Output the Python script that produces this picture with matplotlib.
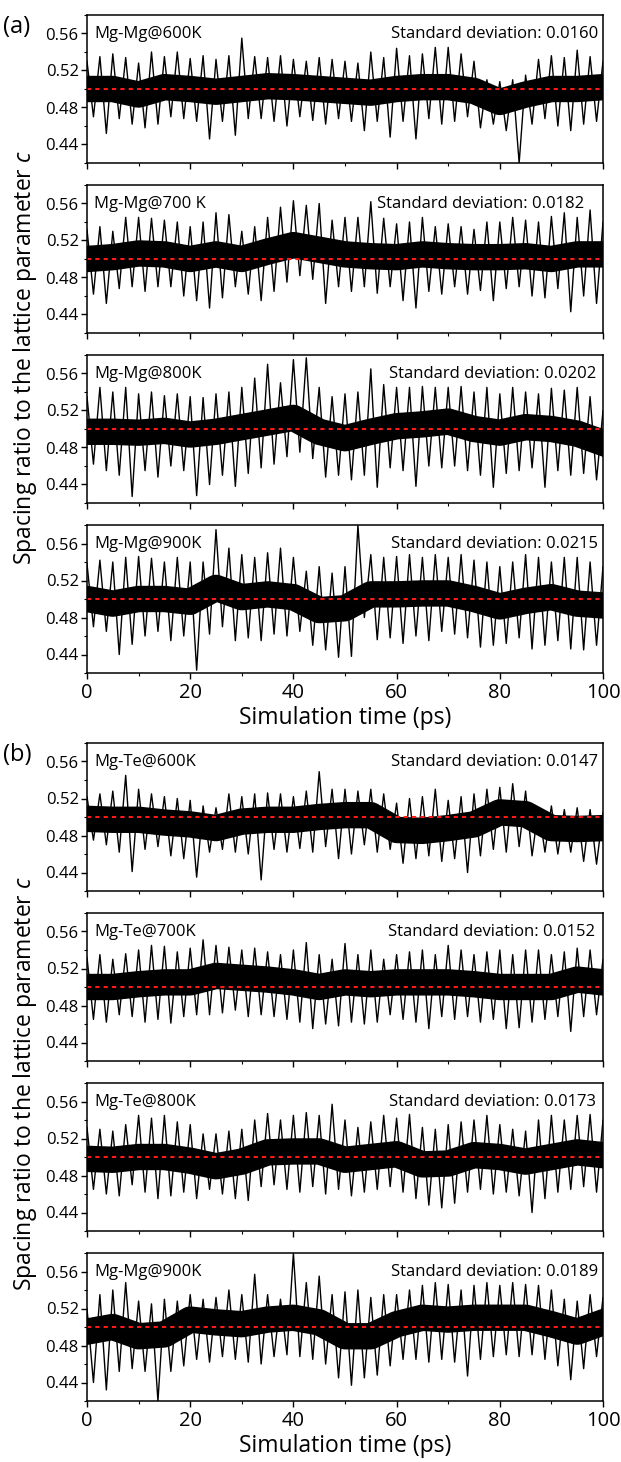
import numpy as np
import matplotlib.pyplot as plt
from matplotlib.ticker import MultipleLocator, FormatStrFormatter

plt.rcParams['font.family'] = ['Open Sans', 'DejaVu Sans']
plt.rcParams['mathtext.fontset'] = 'custom'
plt.rcParams['mathtext.rm'] = 'Open Sans'
plt.rcParams['mathtext.it'] = 'Open Sans:italic'

# Time grids (ps): upward spike tips, downward spike tips (half a step later),
# and the centre of the dense band
t_hi = np.arange(0, 100.1, 2.5)
t_lo = np.arange(1.25, 101.3, 2.5)
t_mid = np.arange(0, 100.1, 5)

# Panel names and standard deviations
names = ['Mg-Mg@600K', 'Mg-Mg@700 K', 'Mg-Mg@800K', 'Mg-Mg@900K',
         'Mg-Te@600K', 'Mg-Te@700K', 'Mg-Te@800K', 'Mg-Mg@900K']
sds = [0.0160, 0.0182, 0.0202, 0.0215, 0.0147, 0.0152, 0.0173, 0.0189]

# (a) Mg-Mg 600K
hi_a1 = [.530, .535, .538, .534, .528, .540, .535, .540, .533, .536, .532, .536, .555, .535,
         .534, .536, .532, .530, .534, .532, .530, .528, .540, .534, .544, .536, .538, .545,
         .545, .538, .530, .510, .508, .510, .515, .532, .536, .534, .542, .535, .530]
lo_a1 = [.470, .452, .468, .462, .458, .462, .470, .468, .465, .446, .465, .450, .468, .468,
         .465, .460, .470, .466, .462, .468, .465, .455, .465, .448, .465, .446, .468, .462,
         .465, .470, .458, .462, .455, .420, .462, .468, .460, .455, .462, .465, .472]
mid_a1 = [.500, .500, .494, .502, .500, .497, .500, .503, .502, .500, .498, .496, .500, .502,
          .502, .498, .486, .494, .500, .500, .502]

# (a) Mg-Mg 700K
hi_a2 = [.532, .535, .530, .545, .545, .544, .542, .540, .535, .540, .550, .548, .530, .535,
         .545, .556, .563, .558, .560, .542, .545, .545, .562, .544, .538, .540, .545, .535,
         .538, .535, .532, .540, .540, .545, .542, .540, .546, .550, .545, .553, .540]
lo_a2 = [.462, .452, .468, .470, .465, .470, .470, .460, .455, .447, .458, .470, .462, .455,
         .465, .475, .482, .478, .452, .470, .465, .470, .463, .470, .455, .447, .465, .462,
         .470, .462, .466, .455, .468, .470, .460, .458, .468, .443, .460, .452, .470]
mid_a2 = [.500, .502, .506, .505, .500, .505, .500, .508, .515, .510, .505, .503, .502, .505,
          .503, .502, .502, .503, .500, .505, .505]

# (a) Mg-Mg 800K
hi_a3 = [.535, .545, .540, .545, .538, .540, .536, .538, .535, .534, .538, .540, .545, .555,
         .570, .550, .575, .577, .545, .535, .538, .540, .565, .548, .545, .545, .546, .545,
         .545, .546, .540, .545, .538, .545, .540, .538, .544, .542, .545, .535, .520]
lo_a3 = [.462, .455, .450, .427, .455, .448, .460, .455, .428, .440, .450, .438, .452, .458,
         .462, .470, .475, .468, .448, .450, .445, .450, .437, .458, .455, .438, .460, .458,
         .460, .455, .450, .437, .452, .455, .458, .437, .455, .450, .452, .445, .432]
mid_a3 = [.497, .497, .496, .498, .494, .497, .502, .507, .512, .497, .490, .497, .503, .505,
          .508, .500, .496, .502, .500, .495, .485]

# (a) Mg-Mg 900K
hi_a4 = [.538, .542, .540, .545, .546, .544, .540, .545, .540, .540, .575, .555, .548, .545,
         .550, .555, .545, .530, .535, .528, .535, .580, .548, .545, .546, .548, .545, .548,
         .545, .548, .542, .540, .535, .540, .548, .545, .540, .545, .545, .540, .535]
lo_a4 = [.470, .465, .440, .451, .460, .465, .455, .460, .423, .462, .470, .455, .458, .455,
         .462, .460, .465, .450, .445, .437, .438, .480, .456, .458, .452, .460, .455, .465,
         .462, .458, .448, .450, .452, .458, .446, .450, .455, .446, .445, .450, .452]
mid_a4 = [.500, .495, .500, .500, .497, .512, .502, .505, .502, .488, .490, .505, .505, .506,
          .506, .500, .492, .498, .502, .495, .493]

# (b) Mg-Te 600K
hi_b1 = [.522, .525, .528, .545, .530, .525, .522, .520, .518, .512, .510, .525, .522, .525,
         .526, .525, .522, .528, .549, .530, .530, .528, .530, .525, .515, .520, .522, .530,
         .518, .522, .525, .530, .532, .536, .528, .510, .512, .508, .510, .508, .505]
lo_b1 = [.475, .470, .462, .441, .465, .468, .458, .455, .435, .462, .465, .462, .460, .432,
         .465, .462, .466, .462, .468, .455, .460, .470, .462, .465, .450, .455, .458, .452,
         .455, .440, .458, .465, .462, .468, .458, .462, .460, .462, .452, .449, .465]
mid_b1 = [.498, .497, .497, .494, .492, .488, .495, .497, .497, .500, .502, .502, .486, .485,
          .488, .492, .505, .503, .488, .487, .488]

# (b) Mg-Te 700K
hi_b2 = [.532, .535, .530, .536, .540, .545, .544, .538, .542, .551, .545, .543, .540, .542,
         .538, .535, .540, .548, .535, .530, .547, .535, .540, .530, .535, .538, .540, .535,
         .545, .540, .535, .538, .540, .535, .540, .540, .535, .538, .542, .540, .530]
lo_b2 = [.465, .462, .470, .468, .462, .465, .461, .468, .470, .470, .472, .475, .468, .470,
         .468, .465, .462, .455, .460, .458, .462, .460, .462, .470, .465, .462, .455, .468,
         .465, .468, .462, .465, .455, .456, .462, .465, .468, .452, .468, .470, .478]
mid_b2 = [.500, .500, .503, .505, .505, .512, .510, .508, .505, .500, .505, .503, .505, .505,
          .505, .503, .500, .500, .500, .508, .505]

# (b) Mg-Te 800K
hi_b3 = [.532, .530, .528, .535, .545, .542, .545, .538, .535, .525, .525, .528, .530, .540,
         .547, .540, .545, .548, .545, .557, .540, .532, .538, .545, .542, .546, .532, .530,
         .535, .538, .540, .545, .535, .530, .528, .540, .545, .540, .545, .546, .540]
lo_b3 = [.465, .460, .458, .470, .462, .455, .458, .462, .455, .465, .460, .455, .453, .468,
         .470, .465, .462, .468, .460, .465, .458, .462, .465, .468, .462, .455, .448, .445,
         .450, .462, .465, .460, .462, .458, .440, .455, .462, .465, .468, .462, .465]
mid_b3 = [.498, .497, .500, .500, .496, .490, .495, .505, .506, .506, .497, .500, .503, .492,
          .493, .502, .500, .495, .500, .505, .502]

# (b) Mg-Mg 900K
hi_b4 = [.520, .535, .540, .548, .528, .525, .530, .528, .535, .530, .532, .540, .535, .557,
         .535, .530, .580, .548, .555, .535, .538, .540, .532, .535, .535, .540, .545, .548,
         .546, .540, .545, .548, .545, .548, .546, .545, .540, .530, .528, .535, .532]
lo_b4 = [.440, .432, .452, .455, .452, .420, .452, .458, .465, .462, .468, .465, .462, .460,
         .468, .470, .468, .465, .460, .445, .437, .445, .448, .458, .465, .465, .462, .465,
         .462, .447, .465, .468, .470, .468, .470, .465, .458, .443, .455, .468, .470]
mid_b4 = [.495, .500, .490, .492, .508, .505, .503, .508, .510, .505, .490, .490, .503, .510,
          .508, .510, .510, .510, .503, .495, .505]

his = [hi_a1, hi_a2, hi_a3, hi_a4, hi_b1, hi_b2, hi_b3, hi_b4]
los = [lo_a1, lo_a2, lo_a3, lo_a4, lo_b1, lo_b2, lo_b3, lo_b4]
mids = [mid_a1, mid_a2, mid_a3, mid_a4, mid_b1, mid_b2, mid_b3, mid_b4]

# layout in pixels of the 621x1462 figure
W, H = 621, 1462
ax_left, ax_w, ax_h = 87, 516, 148
tops = [15, 185, 355, 525, 743, 913, 1083, 1253]
note_x = [0.99, 0.963, 0.986, 0.99, 0.99, 0.984, 0.986, 0.99]

fig = plt.figure(figsize=(W / 100, H / 100), dpi=100)

for i in range(8):
    ax = fig.add_axes([ax_left / W, 1 - (tops[i] + ax_h) / H, ax_w / W, ax_h / H])

    # dense band of the trajectory, then the trace through the up/down tips
    ax.plot(t_mid, mids[i], color='black', lw=19, solid_capstyle='projecting',
            solid_joinstyle='round')
    x = np.column_stack([t_hi, t_lo]).ravel()
    y = np.column_stack([his[i], los[i]]).ravel()
    ax.plot(x, y, color='black', lw=1.0)
    ax.axhline(0.50, color='#ff1a1a', ls=(0, (2, 2)), lw=1.5)

    ax.set_xlim(0, 100)
    ax.set_ylim(0.42, 0.58)
    ax.xaxis.set_major_locator(MultipleLocator(20))
    ax.xaxis.set_minor_locator(MultipleLocator(10))
    ax.yaxis.set_minor_locator(MultipleLocator(0.02))
    ax.set_yticks([0.44, 0.48, 0.52, 0.56])
    ax.yaxis.set_major_formatter(FormatStrFormatter('%.2f'))
    ax.tick_params(which='major', direction='out', length=4, width=1.0)
    ax.tick_params(which='minor', direction='out', length=2.5, width=0.8)
    ax.tick_params(axis='y', labelsize=12, pad=2)
    for s in ax.spines.values():
        s.set_linewidth(1.1)

    if i in (3, 7):
        ax.tick_params(axis='x', labelsize=14.5, pad=3)
        ax.set_xlabel('Simulation time (ps)', fontsize=16.5, labelpad=2)
    else:
        ax.tick_params(axis='x', labelbottom=False)

    ax.text(0.014, 0.875, names[i], transform=ax.transAxes, ha='left', va='center',
            fontsize=12)
    ax.text(note_x[i], 0.875, 'Standard deviation: %.4f' % sds[i], transform=ax.transAxes,
            ha='right', va='center', fontsize=12)

fig.text(3 / W, 1 - 27 / H, '(a)', fontsize=17, ha='left', va='center')
fig.text(3 / W, 1 - 755 / H, '(b)', fontsize=17, ha='left', va='center')
for yc in (358, 1084):
    fig.text(25 / W, 1 - yc / H, 'Spacing ratio to the lattice parameter $c$', rotation=90,
             ha='center', va='center', fontsize=16.5)

fig.savefig('out.png', dpi=100)
